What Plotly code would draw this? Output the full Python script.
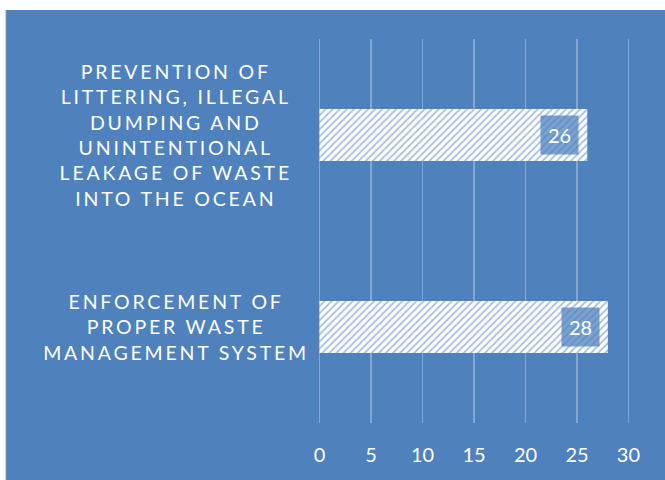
import plotly.graph_objects as go

categories = ["ENFORCEMENT OF<br>PROPER WASTE<br>MANAGEMENT SYSTEM",
              "PREVENTION OF<br>LITTERING, ILLEGAL<br>DUMPING AND<br>UNINTENTIONAL<br>LEAKAGE OF WASTE<br>INTO THE OCEAN"]
values = [28, 26]
tick_vals = [0, 5, 10, 15, 20, 25, 30]

BLUE = "#4F81BD"
FONT = "Lato"

fig = go.Figure()
fig.add_trace(go.Bar(
    y=categories, x=values, orientation="h", width=0.27,
    marker=dict(color="white", line=dict(width=0),
                pattern=dict(shape="/", fgcolor=BLUE, bgcolor="white", size=5, solidity=0.35)),
    hoverinfo="skip",
))

# plot area in pixels: l=318, width=312
def px_to_paper(px):
    return (px - 318) / 312.0

annotations = []
for c, v in zip(categories, values):
    annotations.append(dict(x=v, y=c, xref="x", yref="y", text=str(v), showarrow=False,
                            xanchor="right", xshift=-8, bgcolor="rgba(79,129,189,0.75)",
                            borderpad=7, font=dict(family=FONT, size=20, color="white")))
    annotations.append(dict(x=px_to_paper(176), y=c, xref="paper", yref="y", text=c, showarrow=False,
                            xanchor="center", yanchor="middle", align="center",
                            font=dict(family=FONT, size=19.5, color="white")))

fig.update_layout(
    width=665, height=480,
    margin=dict(l=318, r=35, t=39, b=57),
    paper_bgcolor="white", plot_bgcolor="rgba(0,0,0,0)",
    showlegend=False,
    annotations=annotations,
    shapes=[dict(type="rect", xref="paper", yref="paper", x0=px_to_paper(6), x1=1.2, y0=-0.2, y1=1.0755,
                 fillcolor=BLUE, line=dict(width=0), layer="below"),
            dict(type="line", xref="paper", yref="paper", x0=px_to_paper(6), x1=px_to_paper(6), y0=-0.2, y1=1.0755,
                 line=dict(color="#7a9fcf", width=1), layer="below")],
    xaxis=dict(range=[-0.15, 30.15], tickvals=tick_vals, showgrid=True, gridcolor="#84A7D1", gridwidth=1.5,
               zeroline=False, showline=False, ticks="", ticklabelstandoff=18,
               tickfont=dict(family=FONT, size=20, color="white"), fixedrange=True),
    yaxis=dict(showticklabels=False, showgrid=False, zeroline=False, showline=False, ticks="",
               fixedrange=True),
)

post = """
document.body.style.margin = '0';
document.body.style.padding = '0';
document.querySelectorAll('.annotation-text').forEach(function(t){
  if (t.textContent.length > 3) { t.style.letterSpacing = '2.8px'; }
});
"""
fig.write_html("out.html", post_script=post, config={"displayModeBar": False, "staticPlot": True})
